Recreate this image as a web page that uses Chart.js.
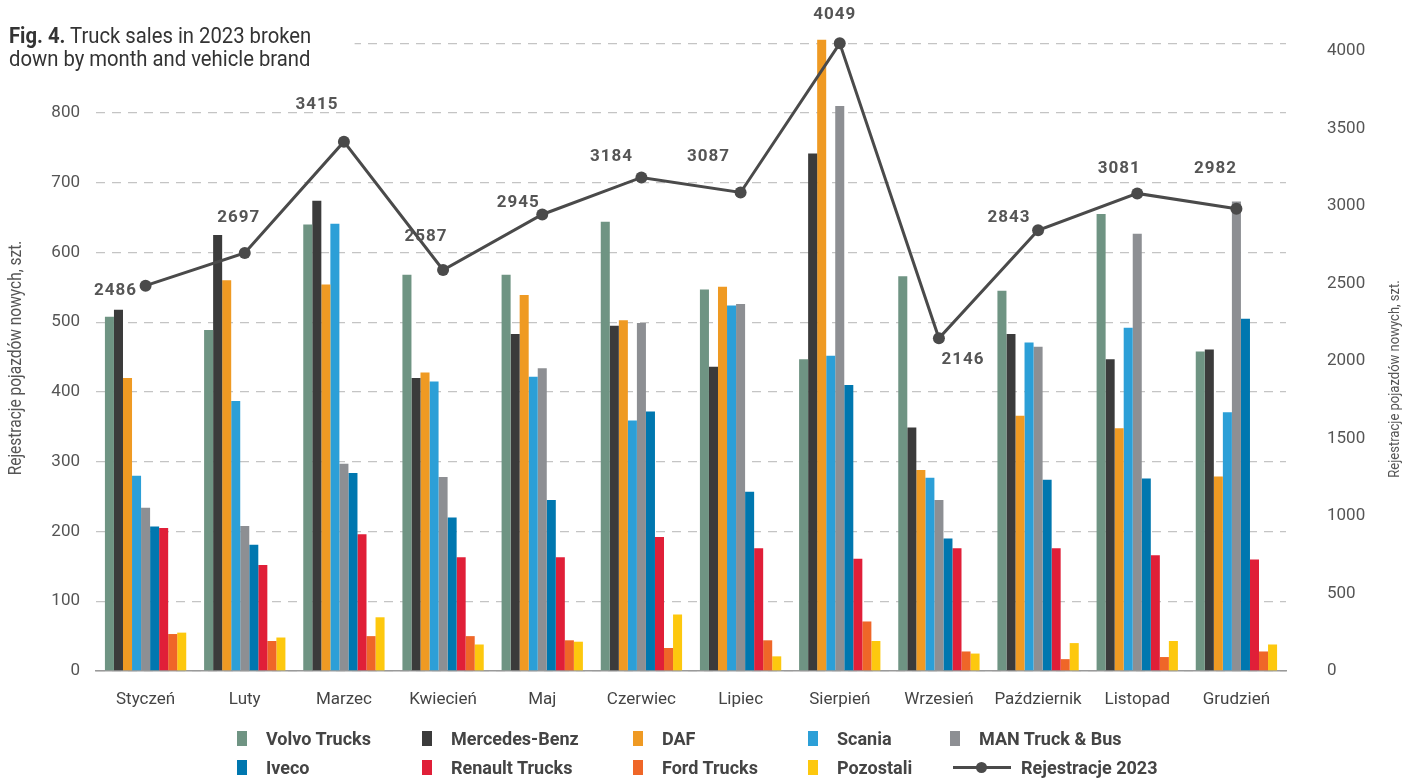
<!DOCTYPE html>
<html>
<head>
<meta charset="utf-8">
<script src="https://cdn.jsdelivr.net/npm/chart.js@4.4.1/dist/chart.umd.min.js"></script>
<style>
  html, body { margin: 0; padding: 0; background: #fff; }
  #wrap { position: relative; width: 1419px; height: 778px; overflow: hidden; }
  #chart { position: absolute; left: 0; top: 0; }
  #title {
    position: absolute; left: 9px; top: 24px; width: 384px; height: 50px; background: #fff;
    font-family: Roboto, "Liberation Sans", sans-serif; font-size: 22.5px; line-height: 23px; color: #333;
    transform: scaleX(0.9); transform-origin: left top; white-space: nowrap;
  }
  #title b { font-weight: 700; }
  .lg { position: absolute; display: flex; align-items: center; height: 20px; white-space: nowrap;
    font-family: Roboto, "Liberation Sans", sans-serif; font-weight: 700; font-size: 18px; color: #444; }
  .lg .sw { width: 10px; height: 15px; margin-right: 19px; flex: none; }
  .lg .ln { position: relative; width: 58px; height: 3px; margin-right: 10px; flex: none; }
  .lg .ln i { position: absolute; left: 23px; top: -4px; width: 11px; height: 11px; border-radius: 50%; }
</style>
</head>
<body>
<div id="wrap">
  <canvas id="chart" width="1419" height="778"></canvas>
  <div id="title"><b>Fig. 4.</b> Truck sales in 2023 broken<br>down by month and vehicle brand</div>
  <div id="legend"></div>
</div>
<script>
const MONTHS = ["Styczeń", "Luty", "Marzec", "Kwiecień", "Maj", "Czerwiec", "Lipiec", "Sierpień", "Wrzesień", "Październik", "Listopad", "Grudzień"];

const VOLVO = [508, 489, 640, 568, 568, 644, 547, 447, 566, 545, 655, 458];
const MERCEDES = [518, 625, 674, 420, 483, 495, 436, 742, 349, 483, 447, 461];
const DAF = [420, 560, 554, 428, 539, 503, 551, 905, 288, 366, 348, 279];
const SCANIA = [280, 387, 641, 415, 422, 359, 524, 452, 277, 471, 492, 371];
const MAN = [234, 208, 297, 278, 434, 499, 526, 810, 245, 465, 627, 673];
const IVECO = [207, 181, 284, 220, 245, 372, 257, 410, 190, 274, 276, 505];
const RENAULT = [205, 152, 196, 163, 163, 192, 176, 161, 176, 176, 166, 160];
const FORD = [53, 43, 50, 50, 44, 33, 44, 71, 28, 17, 20, 28];
const POZOSTALI = [55, 48, 77, 38, 42, 81, 21, 43, 25, 40, 43, 38];
const REJESTRACJE = [2486, 2697, 3415, 2587, 2945, 3184, 3087, 4049, 2146, 2843, 3081, 2982];

const LEFT_TICKS = [0, 100, 200, 300, 400, 500, 600, 700, 800, 900];
const RIGHT_TICKS = [0, 500, 1000, 1500, 2000, 2500, 3000, 3500, 4000];
const LEFT_MAX = 900;
const RIGHT_MAX = 4050;
const AXIS_TITLE = "Rejestracje pojazdów nowych, szt.";

// label placement around line points (dx, dy of text centre)
const LABEL_OFFSETS = [[-30, 5], [-6, -35], [-27, -37], [-17, -33], [-24, -12], [-30, -21],
  [-32, -36], [-5, -29], [24, 21], [-29, -13], [-18, -25], [-21, -40]];

const COLORS = {
  volvo: "#6f9483",
  mercedes: "#3b3b3b",
  daf: "#ef9a23",
  scania: "#2c9fd7",
  man: "#8d8f93",
  iveco: "#0077af",
  renault: "#e01f38",
  ford: "#ef6628",
  pozostali: "#fdc80e",
  line: "#4a4a4a",
};

const FONT = "Roboto, 'Liberation Sans', sans-serif";

function bar(label, data, color) {
  return {
    type: "bar", label, data, backgroundColor: color, borderWidth: 0,
    categoryPercentage: 0.82, barPercentage: 1, clip: false, yAxisID: "y", order: 1,
  };
}

const lineLabels = {
  id: "lineLabels",
  afterDatasetsDraw(chart) {
    const ctx = chart.ctx;
    const meta = chart.getDatasetMeta(9);
    ctx.save();
    ctx.font = "bold 17px " + FONT;
    ctx.letterSpacing = "1px";
    ctx.fillStyle = "#555";
    ctx.textAlign = "center";
    ctx.textBaseline = "middle";
    meta.data.forEach((pt, i) => {
      const [dx, dy] = LABEL_OFFSETS[i];
      ctx.fillText(String(REJESTRACJE[i]), pt.x + dx, pt.y + dy);
    });
    ctx.restore();
  },
};

// vertical axis titles, both reading bottom to top, a little condensed
const axisTitles = {
  id: "axisTitles",
  afterDraw(chart) {
    const ctx = chart.ctx;
    const draw = (x, y, size, squeeze) => {
      ctx.save();
      ctx.translate(x, y);
      ctx.rotate(-Math.PI / 2);
      ctx.scale(squeeze, 1);
      ctx.font = size + "px " + FONT;
      ctx.fillStyle = "#555";
      ctx.textAlign = "center";
      ctx.textBaseline = "middle";
      ctx.fillText(AXIS_TITLE, 0, 0);
      ctx.restore();
    };
    draw(16, 358, 18, 0.86);
    draw(1395, 379, 15.5, 0.84);
  },
};

const chart = new Chart(document.getElementById("chart"), {
  data: {
    labels: MONTHS,
    datasets: [
      bar("Volvo Trucks", VOLVO, COLORS.volvo),
      bar("Mercedes-Benz", MERCEDES, COLORS.mercedes),
      bar("DAF", DAF, COLORS.daf),
      bar("Scania", SCANIA, COLORS.scania),
      bar("MAN Truck & Bus", MAN, COLORS.man),
      bar("Iveco", IVECO, COLORS.iveco),
      bar("Renault Trucks", RENAULT, COLORS.renault),
      bar("Ford Trucks", FORD, COLORS.ford),
      bar("Pozostali", POZOSTALI, COLORS.pozostali),
      {
        type: "line", label: "Rejestracje 2023", data: REJESTRACJE, yAxisID: "y1", order: 0,
        borderColor: COLORS.line, borderWidth: 3, pointRadius: 6, pointHoverRadius: 6,
        pointBackgroundColor: COLORS.line, pointBorderWidth: 0, tension: 0, clip: false,
      },
    ],
  },
  options: {
    responsive: false,
    animation: false,
    devicePixelRatio: 1,
    layout: { padding: { top: 42, bottom: 67, left: 0, right: 0 } },
    plugins: { legend: { display: false }, tooltip: { enabled: false } },
    scales: {
      x: {
        offset: true,
        grid: { display: false },
        border: { display: true, color: "#9a9a9a", width: 1.5 },
        ticks: { color: "#444", font: { family: FONT, size: 17 }, padding: 11 },
        afterFit: (s) => { s.height = 40; },
      },
      y: {
        position: "left", min: 0, max: LEFT_MAX,
        grid: { color: "#c4c4c4", lineWidth: 1.3, drawTicks: false },
        border: { display: false, dash: [9, 7] },
        afterBuildTicks: (s) => { s.ticks = LEFT_TICKS.map((v) => ({ value: v })); },
        ticks: {
          color: "#555", padding: 16, font: { family: FONT, size: 17 },
          callback: (v) => (v >= LEFT_MAX ? "" : String(v)),
        },
        afterFit: (s) => { s.width = 96; },
      },
      y1: {
        position: "right", min: 0, max: RIGHT_MAX,
        grid: { display: false },
        border: { display: false },
        afterBuildTicks: (s) => { s.ticks = RIGHT_TICKS.map((v) => ({ value: v })); },
        ticks: { color: "#555", padding: 33, font: { family: FONT, size: 17 }, callback: (v) => String(v) },
        afterFit: (s) => { s.width = 133; },
      },
    },
  },
  plugins: [lineLabels, axisTitles],
});

// legend, two rows of five
const LEGEND_COLS = [237, 422, 633, 808, 950];
const LEGEND_ROWS = [738, 767];
const legend = document.getElementById("legend");
chart.data.datasets.forEach((ds, i) => {
  const item = document.createElement("div");
  item.className = "lg";
  const col = i % 5;
  const row = Math.floor(i / 5);
  let left = LEGEND_COLS[col];
  if (ds.type === "line") {
    left = 953;
    item.innerHTML = `<span class="ln" style="background:${ds.borderColor}"><i style="background:${ds.borderColor}"></i></span>`;
  } else {
    item.innerHTML = `<span class="sw" style="background:${ds.backgroundColor}"></span>`;
  }
  item.appendChild(document.createTextNode(ds.label));
  item.style.left = left + "px";
  item.style.top = (LEGEND_ROWS[row] - 10) + "px";
  legend.appendChild(item);
});
</script>
</body>
</html>
